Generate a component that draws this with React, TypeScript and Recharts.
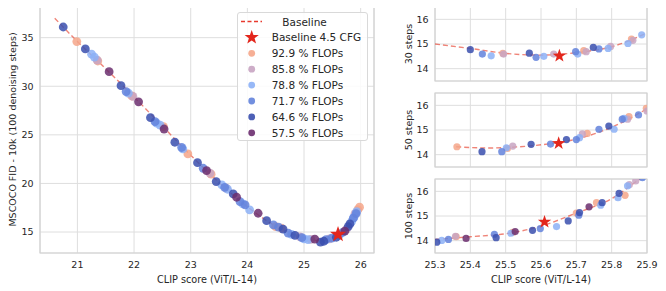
import React from 'react';
import { ComposedChart, Scatter, Line, XAxis, YAxis, CartesianGrid, ReferenceArea, Legend } from 'recharts';

const FONT = "'DejaVu Sans', sans-serif";
const TEXT = '#262626';
const GRID = '#dedede';
const FRAME = '#d2d2d2';
const BASE_LINE = '#e8503f';
const STAR = '#e3261c';

const seriesNames = ['92.9 % FLOPs', '85.8 % FLOPs', '78.8 % FLOPs', '71.7 % FLOPs', '64.6 % FLOPs', '57.5 % FLOPs'];
const seriesColors = ['#f5a68a', '#c8a4c2', '#8cb0f6', '#6383dc', '#3a4fae', '#6b2e6f'];

// ---------- left panel (100 steps, full guidance sweep) ----------
const leftXTicks = [21, 22, 23, 24, 25, 26];
const leftYTicks = [15, 20, 25, 30, 35];
const left929 = [[20.99, 34.6], [21.36, 32.6], [21.96, 29.0], [22.52, 25.85], [22.95, 23.04], [23.36, 20.95], [24.5, 15.55], [24.6, 15.4], [25.95, 17.3], [25.98, 17.55]];
const left858 = [[21.35, 32.7], [21.98, 28.95], [23.34, 21.05], [23.63, 19.5], [24.93, 14.5], [25.12, 14.25], [25.45, 14.3], [25.75, 15.3], [25.9, 16.9]];
const left788 = [[21.25, 33.3], [21.3, 33.0], [21.9, 29.3], [22.4, 26.2], [22.46, 26.0], [22.86, 23.55], [23.55, 19.85], [23.65, 19.4], [23.92, 17.9], [24.04, 17.27], [24.78, 14.75], [25.0, 14.3], [25.07, 14.22], [25.62, 14.65], [25.84, 16.07], [25.88, 16.5], [25.93, 17.1]];
const left717 = [[21.86, 29.45], [22.37, 26.36], [22.84, 23.7], [23.22, 21.56], [23.6, 19.6], [23.87, 18.13], [23.96, 17.8], [24.46, 15.73], [24.55, 15.5], [24.72, 14.88], [24.96, 14.42], [25.39, 14.22], [25.49, 14.38], [25.68, 14.95], [25.87, 16.42], [25.92, 16.9]];
const left646 = [[20.75, 36.1], [21.14, 33.84], [21.77, 30.06], [22.29, 26.77], [22.72, 24.24], [23.12, 22.14], [23.45, 20.19], [23.75, 18.92], [24.34, 16.17], [24.63, 15.3], [24.84, 14.65], [25.29, 13.95], [25.35, 14.05], [25.57, 14.46], [25.78, 15.56], [25.81, 15.83]];
const left575 = [[21.56, 31.5], [22.08, 28.4], [22.53, 25.6], [23.28, 21.32], [23.81, 18.58], [24.19, 16.93], [25.19, 14.27], [25.72, 15.1]];
const leftStar = [[25.6, 14.75]];
const leftBaseline = [[20.6, 37.0], [21.0, 34.6], [21.5, 31.8], [22.0, 28.9], [22.5, 25.9], [23.0, 22.9], [23.5, 20.1], [24.0, 17.6], [24.5, 15.6], [25.0, 14.4], [25.3, 14.1], [25.6, 14.6], [25.8, 15.7], [25.98, 17.5]];

// ---------- right panels ----------
const rightXTicks = [25.3, 25.4, 25.5, 25.6, 25.7, 25.8, 25.9];
const rightYTicks = [14, 15, 16];

const s30_929 = [[25.492, 14.62], [25.721, 14.73], [25.856, 15.2]];
const s30_858 = [[25.494, 14.59], [25.636, 14.59], [25.728, 14.69], [25.797, 14.9], [25.86, 15.15]];
const s30_788 = [[25.459, 14.52], [25.608, 14.5], [25.704, 14.59], [25.79, 14.82], [25.846, 15.02], [25.885, 15.37]];
const s30_717 = [[25.434, 14.59], [25.586, 14.46], [25.698, 14.69], [25.764, 14.8]];
const s30_646 = [[25.4, 14.77], [25.567, 14.63], [25.748, 14.86]];
const s30_575: number[][] = [];
const s30Star = [[25.652, 14.52]];
const s30Baseline = [[25.3, 15.0], [25.4, 14.82], [25.5, 14.62], [25.6, 14.55], [25.7, 14.65], [25.8, 14.89], [25.9, 15.45]];

const s50_929 = [[25.362, 14.32], [25.505, 14.25], [25.731, 14.86], [25.849, 15.54], [25.898, 15.88]];
const s50_858 = [[25.52, 14.35], [25.717, 14.84], [25.845, 15.44], [25.9, 15.77]];
const s50_788 = [[25.502, 14.28], [25.709, 14.69], [25.807, 15.03], [25.835, 15.47]];
const s50_717 = [[25.489, 14.12], [25.627, 14.43], [25.7, 14.61], [25.764, 15.03], [25.83, 15.44], [25.876, 15.61]];
const s50_646 = [[25.433, 14.12], [25.572, 14.42], [25.672, 14.61], [25.792, 15.16]];
const s50_575: number[][] = [];
const s50Star = [[25.65, 14.46]];
const s50Baseline = [[25.36, 14.32], [25.45, 14.27], [25.5, 14.29], [25.6, 14.4], [25.7, 14.63], [25.8, 15.11], [25.9, 15.86]];

const s100_929 = [[25.36, 14.16], [25.52, 14.34], [25.7, 15.12], [25.757, 15.54], [25.838, 15.84]];
const s100_858 = [[25.358, 14.18], [25.85, 16.27], [25.868, 16.42]];
const s100_788 = [[25.319, 14.01], [25.515, 14.3], [25.644, 14.57], [25.769, 15.44], [25.818, 15.74], [25.845, 16.22]];
const s100_717 = [[25.338, 14.05], [25.468, 14.26], [25.598, 14.49], [25.707, 15.03], [25.887, 16.55]];
const s100_646 = [[25.305, 13.94], [25.473, 14.12], [25.576, 14.42], [25.677, 14.8], [25.709, 15.14], [25.773, 15.54], [25.821, 15.92]];
const s100_575 = [[25.388, 14.09], [25.527, 14.37], [25.736, 15.37]];
const s100Star = [[25.61, 14.76]];
const s100Baseline = [[25.3, 14.05], [25.4, 14.16], [25.5, 14.28], [25.6, 14.59], [25.7, 15.12], [25.8, 15.7], [25.87, 16.4], [25.9, 16.7]];

const pts = (a: number[][]) => a.map(([x, y]) => ({ x, y }));

const starPath = (cx: number, cy: number, R: number) => {
  const rr = R * 0.4;
  let d = '';
  for (let i = 0; i < 10; i++) {
    const ang = -Math.PI / 2 + (i * Math.PI) / 5;
    const rad = i % 2 === 0 ? R : rr;
    d += (i === 0 ? 'M' : 'L') + (cx + rad * Math.cos(ang)).toFixed(2) + ',' + (cy + rad * Math.sin(ang)).toFixed(2);
  }
  return d + 'Z';
};

const dotShape = (r: number, color: string) => (props: any) => {
  const { cx, cy } = props;
  if (cx == null || cy == null) return <g />;
  return <circle cx={cx} cy={cy} r={r} fill={color} fillOpacity={0.85} />;
};

const starShape = (R: number) => (props: any) => {
  const { cx, cy } = props;
  if (cx == null || cy == null) return <g />;
  return <path d={starPath(cx, cy, R)} fill={STAR} />;
};

const legendRows = [9.5, 25.4, 41.3, 57.2, 73.1, 89, 104.9, 120.8];

const LegendBox = () => (
  <div
    style={{
      position: 'relative',
      width: 131,
      height: 129,
      boxSizing: 'border-box',
      border: '1px solid #d9d9d9',
      borderRadius: 3,
      background: 'rgba(255,255,255,0.85)',
      fontFamily: FONT,
      fontSize: 10.5,
      color: TEXT,
    }}
  >
    <svg width={131} height={129} style={{ position: 'absolute', left: -1, top: -1 }}>
      <line x1={4} x2={25} y1={legendRows[0]} y2={legendRows[0]} stroke="#e8392d" strokeWidth={1.5} strokeDasharray="4 2.5" />
      <path d={starPath(14.7, legendRows[1], 7.5)} fill={STAR} />
      {seriesColors.map((c, i) => (
        <circle key={i} cx={14.7} cy={legendRows[i + 2]} r={3.4} fill={c} fillOpacity={0.9} />
      ))}
    </svg>
    {['Baseline', 'Baseline 4.5 CFG', ...seriesNames].map((t, i) => (
      <div
        key={t}
        style={{
          position: 'absolute',
          left: i === 0 ? 44.3 : 33.7,
          top: legendRows[i] - 8,
          lineHeight: '14px',
          whiteSpace: 'nowrap',
        }}
      >
        {t}
      </div>
    ))}
  </div>
);

type PanelProps = {
  left: number;
  top: number;
  width: number;
  height: number;
  margin: { top: number; right: number; bottom: number; left: number };
  xDomain: [number, number];
  yDomain: [number, number];
  xTicks: number[];
  yTicks: number[];
  series: number[][][];
  star: number[][];
  baseline: number[][];
  r: number;
  starR: number;
  showX: boolean;
  xAxisHeight: number;
  yAxisWidth: number;
  yLabel: string;
  yLabelDx: number;
  xFmt?: (v: number) => string;
  legend?: boolean;
};

const Panel = (p: PanelProps) => {
  const xLabel = (props: any) => {
    const vb = props.viewBox || {};
    return (
      <text x={vb.x + vb.width / 2} y={vb.y + 29.5} textAnchor="middle" fontSize={9.7} fill={TEXT} fontFamily={FONT}>
        CLIP score (ViT/L-14)
      </text>
    );
  };
  const yLabel = (props: any) => {
    const vb = props.viewBox || {};
    const x = vb.x + p.yLabelDx;
    const y = vb.y + vb.height / 2;
    return (
      <text x={x} y={y} transform={`rotate(-90 ${x} ${y})`} textAnchor="middle" fontSize={9.5} fill={TEXT} fontFamily={FONT}>
        {p.yLabel}
      </text>
    );
  };
  return (
    <div style={{ position: 'absolute', left: p.left, top: p.top }}>
      <ComposedChart width={p.width} height={p.height} margin={p.margin}>
        <CartesianGrid stroke={GRID} strokeWidth={1} />
        <XAxis
          type="number"
          dataKey="x"
          domain={p.xDomain}
          ticks={p.xTicks}
          interval={0}
          allowDataOverflow
          tickLine={false}
          axisLine={false}
          tickSize={0}
          tickMargin={8}
          height={p.xAxisHeight}
          tick={{ fontSize: 9.5, fill: TEXT, fontFamily: FONT }}
          tickFormatter={p.showX ? p.xFmt || ((v: number) => String(v)) : () => ''}
          label={p.showX ? xLabel : undefined}
        />
        <YAxis
          type="number"
          dataKey="y"
          domain={p.yDomain}
          ticks={p.yTicks}
          interval={0}
          allowDataOverflow
          tickLine={false}
          axisLine={false}
          tickSize={0}
          tickMargin={6.5}
          width={p.yAxisWidth}
          tick={{ fontSize: 9.5, fill: TEXT, fontFamily: FONT }}
          label={yLabel}
        />
        <ReferenceArea
          x1={p.xDomain[0]}
          x2={p.xDomain[1]}
          y1={p.yDomain[0]}
          y2={p.yDomain[1]}
          fill="none"
          stroke={FRAME}
          strokeWidth={1.2}
          ifOverflow="visible"
        />
        <Line
          data={pts(p.baseline)}
          dataKey="y"
          type="monotone"
          dot={false}
          activeDot={false}
          stroke={BASE_LINE}
          strokeOpacity={0.7}
          strokeWidth={1.4}
          strokeDasharray="5 3"
          isAnimationActive={false}
          legendType="none"
        />
        {p.series.map((s, i) => (
          <Scatter
            key={i}
            name={seriesNames[i]}
            data={pts(s)}
            dataKey="y"
            fill={seriesColors[i]}
            shape={dotShape(p.r, seriesColors[i])}
            isAnimationActive={false}
          />
        ))}
        <Scatter name="Baseline 4.5 CFG" data={pts(p.star)} dataKey="y" fill={STAR} shape={starShape(p.starR)} isAnimationActive={false} />
        {p.legend && (
          <Legend
            layout="vertical"
            align="center"
            verticalAlign="middle"
            wrapperStyle={{ left: 237, top: 12, width: 131, height: 129 }}
            content={() => <LegendBox />}
          />
        )}
      </ComposedChart>
    </div>
  );
};

export default function App() {
  return (
    <div style={{ position: 'relative', width: 666, height: 291, marginLeft: -8, marginTop: -8, background: '#fff', overflow: 'hidden' }}>
      <Panel
        left={0}
        top={0}
        width={380}
        height={291}
        margin={{ top: 6, right: 6, bottom: 0, left: 10 }}
        xDomain={[20.34, 26.235]}
        yDomain={[12.84, 38.26]}
        xTicks={leftXTicks}
        yTicks={leftYTicks}
        series={[left929, left858, left788, left717, left646, left575]}
        star={leftStar}
        baseline={leftBaseline}
        r={4.4}
        starR={8.5}
        showX={true}
        xAxisHeight={38}
        yAxisWidth={30}
        yLabel="MSCOCO FID - 10k (100 denoising steps)"
        yLabelDx={5.5}
        legend={true}
      />
      <Panel
        left={380}
        top={0}
        width={286}
        height={86}
        margin={{ top: 7, right: 19, bottom: 0, left: 30 }}
        xDomain={[25.3, 25.9]}
        yDomain={[13.5, 16.5]}
        xTicks={rightXTicks}
        yTicks={rightYTicks}
        series={[s30_929, s30_858, s30_788, s30_717, s30_646, s30_575]}
        star={s30Star}
        baseline={s30Baseline}
        r={3.6}
        starR={7}
        showX={false}
        xAxisHeight={5}
        yAxisWidth={25}
        yLabel="30 steps"
        yLabelDx={1.5}
      />
      <Panel
        left={380}
        top={87}
        width={286}
        height={86}
        margin={{ top: 6, right: 19, bottom: 0, left: 30 }}
        xDomain={[25.3, 25.9]}
        yDomain={[13.5, 16.5]}
        xTicks={rightXTicks}
        yTicks={rightYTicks}
        series={[s50_929, s50_858, s50_788, s50_717, s50_646, s50_575]}
        star={s50Star}
        baseline={s50Baseline}
        r={3.6}
        starR={7}
        showX={false}
        xAxisHeight={6}
        yAxisWidth={25}
        yLabel="50 steps"
        yLabelDx={1.5}
      />
      <Panel
        left={380}
        top={173}
        width={286}
        height={118}
        margin={{ top: 6, right: 19, bottom: 0, left: 30 }}
        xDomain={[25.3, 25.9]}
        yDomain={[13.5, 16.5]}
        xTicks={rightXTicks}
        yTicks={rightYTicks}
        series={[s100_929, s100_858, s100_788, s100_717, s100_646, s100_575]}
        star={s100Star}
        baseline={s100Baseline}
        r={3.6}
        starR={7}
        showX={true}
        xAxisHeight={38}
        yAxisWidth={25}
        yLabel="100 steps"
        yLabelDx={1.5}
        xFmt={(v: number) => v.toFixed(1)}
      />
    </div>
  );
}
